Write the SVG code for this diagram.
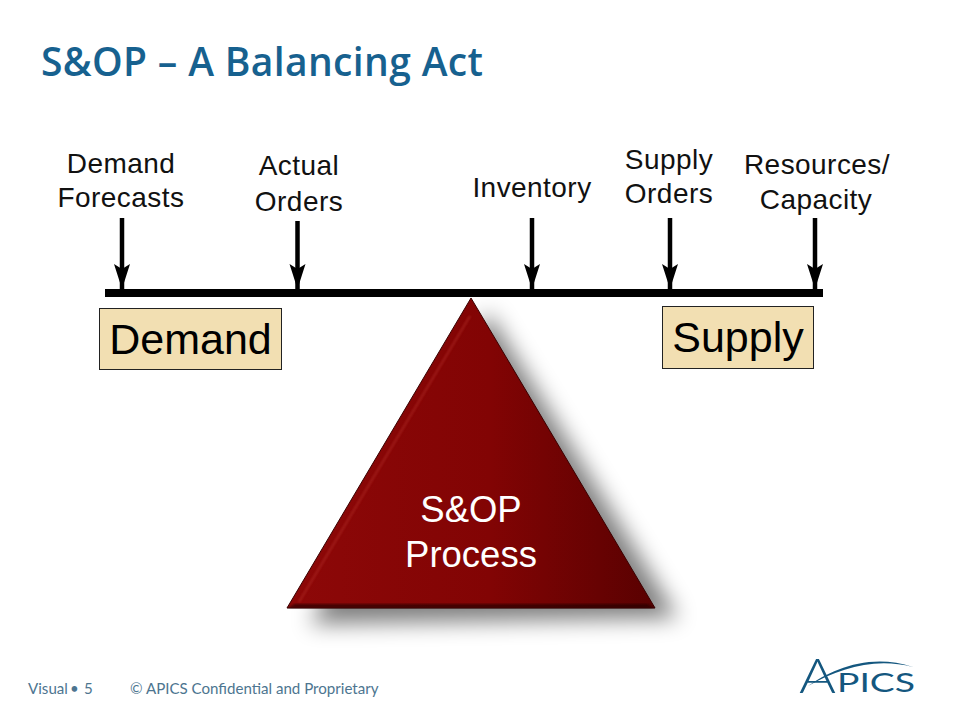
<svg xmlns="http://www.w3.org/2000/svg" width="960" height="720" viewBox="0 0 960 720">
<style>
.lbl{font-family:"Liberation Sans",Arial,sans-serif;font-size:28px;letter-spacing:.45px;fill:#111;text-anchor:middle}
.big{font-family:"Liberation Sans",Arial,sans-serif;font-size:43px;fill:#000;text-anchor:middle}
.box{fill:#f2dfb2;stroke:#222;stroke-width:1}
.arrow{stroke:#000;stroke-width:4.500;fill:none;marker-end:url(#head)}
.foot{font-family:"Lato","Open Sans",sans-serif;font-size:15.100px;fill:#4d7590}
.logo{font-family:"Lato","Liberation Sans",sans-serif;fill:#14577f}
</style>
<defs>
<marker id="head" markerUnits="userSpaceOnUse" markerWidth="28" markerHeight="18" refX="26" refY="9" orient="auto" viewBox="0 0 28 18">
<path d="M26 9 L1 1 L6 9 L1 17 Z" fill="#000"/>
</marker>
<linearGradient id="tri" x1="0" x2="1" y1="0" y2="0">
<stop offset="0" stop-color="#8d0808"/><stop offset="0.55" stop-color="#820404"/><stop offset="1" stop-color="#590101"/>
</linearGradient>
<filter id="sh" x="-30%" y="-30%" width="160%" height="160%"><feGaussianBlur stdDeviation="11"/></filter>
<filter id="b1" x="-10%" y="-10%" width="120%" height="120%"><feGaussianBlur stdDeviation="1"/></filter>
</defs>
<rect width="960" height="720" fill="#fff"/>
<text id="title" x="41" y="76" font-family="'Open Sans',sans-serif" font-size="39" font-weight="600" letter-spacing=".35" fill="#17618f">S&amp;OP – A Balancing Act</text>

<g id="connectors">
<line class="arrow" x1="122" y1="218" x2="122" y2="289"/>
<line class="arrow" x1="297.500" y1="221" x2="297.500" y2="289"/>
<line class="arrow" x1="532" y1="218" x2="532" y2="289"/>
<line class="arrow" x1="670" y1="218" x2="670" y2="289"/>
<line class="arrow" x1="815" y1="218" x2="815" y2="289"/>
</g>

<g id="beam"><rect x="105" y="289" width="718" height="8" fill="#000"/></g>

<g id="label-demand-forecasts"><text class="lbl" x="121" y="173">Demand</text><text class="lbl" x="121" y="207">Forecasts</text></g>
<g id="label-actual-orders"><text class="lbl" x="299" y="175">Actual</text><text class="lbl" x="299" y="211">Orders</text></g>
<g id="label-inventory"><text class="lbl" x="532" y="197">Inventory</text></g>
<g id="label-supply-orders"><text class="lbl" x="669" y="169">Supply</text><text class="lbl" x="669" y="203">Orders</text></g>
<g id="label-resources"><text class="lbl" x="817" y="174">Resources/</text><text class="lbl" x="816" y="209">Capacity</text></g>

<g id="demand"><rect class="box" x="99.500" y="308.500" width="182" height="61"/><text class="big" x="190.500" y="354">Demand</text></g>
<g id="supply"><rect class="box" x="662.500" y="306.500" width="151" height="62"/><text class="big" x="738" y="352">Supply</text></g>

<g id="process">
<path d="M488 312 L678 618 L310 624 Z" fill="#000" opacity="0.5" filter="url(#sh)"/>
<path d="M471 298 L655 608 L287 608 Z" fill="url(#tri)" stroke="#3a0000" stroke-width="1"/>
<path d="M470 316 L299 602" stroke="#b5302a" stroke-width="2" opacity="0.55" fill="none" filter="url(#b1)"/>
<path d="M295 604 H647 L655 608 H287 Z" fill="#200000" opacity="0.7" filter="url(#b1)"/>
<text x="471" y="522" font-family="'Liberation Sans',Arial,sans-serif" font-size="36.500" fill="#fff" text-anchor="middle">S&amp;OP</text>
<text x="471" y="567" font-family="'Liberation Sans',Arial,sans-serif" font-size="36.500" fill="#fff" text-anchor="middle">Process</text>
</g>

<g id="footer">
<text class="foot" x="28" y="694">Visual</text>
<text class="foot" x="70" y="694">•</text>
<text class="foot" x="84" y="694">5</text>
<text class="foot" x="130" y="694">© APICS Confidential and Proprietary</text>
</g>

<g id="logo">
<text class="logo" x="799" y="692.500" font-size="48" font-weight="300" textLength="37" lengthAdjust="spacingAndGlyphs">A</text>
<text class="logo" x="837" y="692" font-size="26.500" textLength="78" lengthAdjust="spacingAndGlyphs">PICS</text>
<path d="M808 686 C830 670 870 652 913 667 C875 657 840 668 808 686 Z" fill="#14577f"/>
</g>
</svg>
